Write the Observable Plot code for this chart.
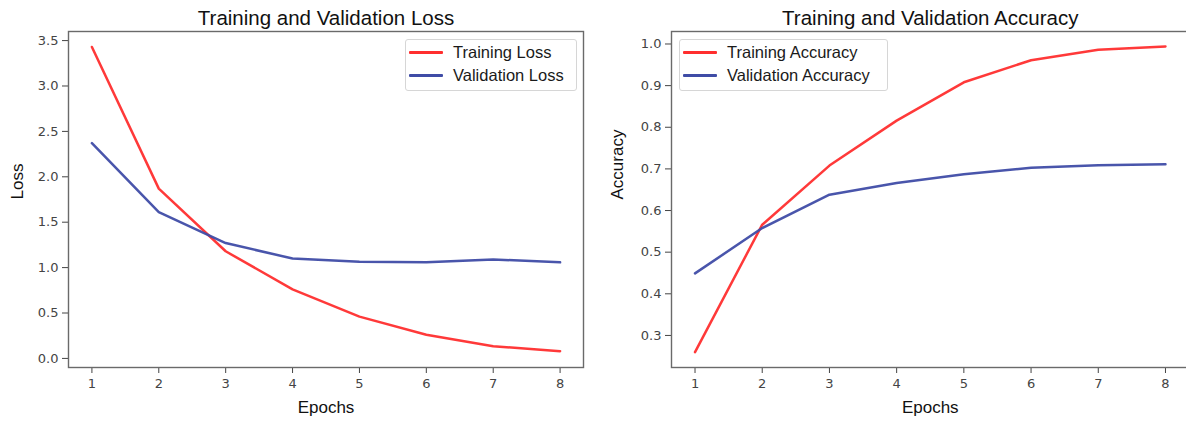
<!DOCTYPE html>
<html>
<head>
<meta charset="utf-8">
<script src="https://cdn.jsdelivr.net/npm/d3@7"></script>
<script src="https://cdn.jsdelivr.net/npm/@observablehq/plot@0.6"></script>
<style>
  html, body { margin: 0; padding: 0; background: #fff; }
  #root { position: relative; width: 1186px; height: 421px; overflow: hidden; background: #fff; }
  .panel { position: absolute; top: 0; }
  .legend { position: absolute; box-sizing: border-box; border: 1px solid #d6d6d6; border-radius: 3px; background: rgba(255,255,255,0.85);
            font-family: "Liberation Sans", Arial, sans-serif; font-size: 16.5px; color: #1a1a1a; padding: 1px 0 0 3px; }
  .legend .row { display: flex; align-items: center; height: 23px; }
  .legend .sw { width: 34px; height: 0; border-top: 3px solid; margin-right: 10px; border-radius: 1px; }
</style>
</head>
<body>
<div id="root"></div>
<script>
// ---- data ----
const epochs = [1, 2, 3, 4, 5, 6, 7, 8];
const trainingLoss = [3.43, 1.87, 1.18, 0.76, 0.46, 0.26, 0.135, 0.08];
const validationLoss = [2.37, 1.61, 1.27, 1.10, 1.065, 1.058, 1.09, 1.058];
const trainingAccuracy = [0.26, 0.566, 0.708, 0.816, 0.908, 0.961, 0.986, 0.994];
const validationAccuracy = [0.449, 0.558, 0.638, 0.666, 0.687, 0.703, 0.709, 0.711];
const lossTicks = [0, 0.5, 1.0, 1.5, 2.0, 2.5, 3.0, 3.5];
const accTicks = [0.3, 0.4, 0.5, 0.6, 0.7, 0.8, 0.9, 1.0];
const lossLabels = ["Training Loss", "Validation Loss"];
const accLabels = ["Training Accuracy", "Validation Accuracy"];

const RED = "#ff2e2e";
const BLUE = "#3f4ca6";
const root = document.getElementById("root");

function rows(values) { return epochs.map((e, i) => ({epoch: e, value: values[i]})); }

function panel({left, width, marginLeft, marginRight, yDomain, yTicks, title, yLabel, yLabelDx, series}) {
  const p = Plot.plot({
    width, height: 421,
    marginLeft, marginRight, marginTop: 31, marginBottom: 54,
    style: {fontFamily: "DejaVu Sans, sans-serif", fontSize: "13px", color: "#444", background: "transparent", overflow: "visible"},
    x: {domain: [0.65, 8.35]},
    y: {domain: yDomain},
    marks: [
      Plot.axisX({ticks: epochs, tickFormat: d3.format("d"), tickSize: 6, tickPadding: 5, label: null, fontSize: 13}),
      Plot.axisY({ticks: yTicks, tickFormat: d3.format(".1f"), tickSize: 6, tickPadding: 4, label: null, fontSize: 13}),
      ...series.map(s => Plot.line(rows(s.values), {x: "epoch", y: "value", stroke: s.color, strokeWidth: 2.5, strokeOpacity: 0.95})),
      Plot.frame({stroke: "#6a6a6a", strokeWidth: 1.4}),
      Plot.text([title], {frameAnchor: "top", lineAnchor: "middle", dy: -13, fontSize: 20.5, fill: "#111", fontFamily: "Liberation Sans, Arial, sans-serif"}),
      Plot.text(["Epochs"], {frameAnchor: "bottom", lineAnchor: "middle", dy: 40, fontSize: 17, fill: "#111", fontFamily: "Liberation Sans, Arial, sans-serif"}),
      Plot.text([yLabel], {frameAnchor: "left", lineAnchor: "middle", dx: yLabelDx, rotate: -90, fontSize: 17, fill: "#111", fontFamily: "Liberation Sans, Arial, sans-serif"})
    ]
  });
  p.classList.add("panel");
  p.style.left = left + "px";
  root.appendChild(p);
}

function legend(labels, colors, left, top, width) {
  const div = document.createElement("div");
  div.className = "legend";
  div.style.left = left + "px";
  div.style.top = top + "px";
  div.style.width = width + "px";
  div.style.height = "52px";
  labels.forEach((l, i) => {
    const r = document.createElement("div");
    r.className = "row";
    const sw = document.createElement("span");
    sw.className = "sw";
    sw.style.borderColor = colors[i];
    const t = document.createElement("span");
    t.textContent = l;
    r.appendChild(sw); r.appendChild(t);
    div.appendChild(r);
  });
  root.appendChild(div);
}

panel({left: 0, width: 590, marginLeft: 68, marginRight: 7, yDomain: [-0.1, 3.6], yTicks: lossTicks,
       title: "Training and Validation Loss", yLabel: "Loss", yLabelDx: -51,
       series: [{values: trainingLoss, color: RED}, {values: validationLoss, color: BLUE}]});
panel({left: 590, width: 609, marginLeft: 81, marginRight: 10.5, yDomain: [0.223, 1.03], yTicks: accTicks,
       title: "Training and Validation Accuracy", yLabel: "Accuracy", yLabelDx: -54,
       series: [{values: trainingAccuracy, color: RED}, {values: validationAccuracy, color: BLUE}]});

legend(lossLabels, [RED, BLUE], 405, 39, 172);
legend(accLabels, [RED, BLUE], 679, 39, 209);
</script>
</body>
</html>
